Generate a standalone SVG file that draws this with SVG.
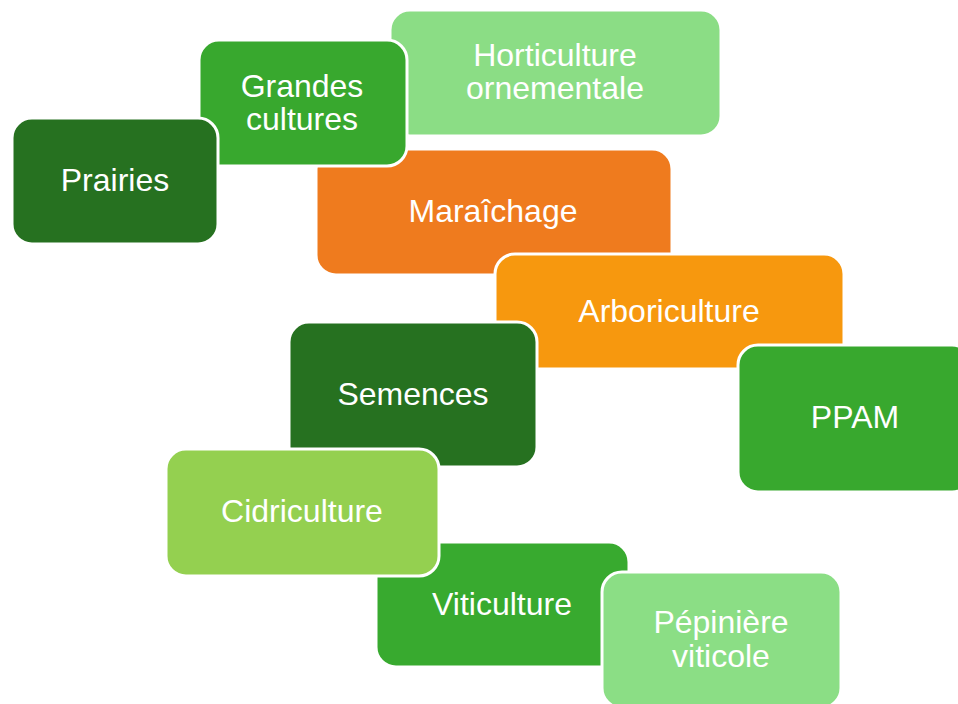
<svg xmlns="http://www.w3.org/2000/svg" width="958" height="704" viewBox="0 0 958 704">
<style>
.b{stroke:#ffffff;stroke-width:3}
.t{font-family:"Liberation Sans",Arial,sans-serif;font-size:32px;fill:#ffffff;text-anchor:middle}
</style>
<rect width="958" height="704" fill="#ffffff"/>
<g id="horticulture"><rect class="b" x="390" y="10" width="331" height="126" rx="20" fill="#8BDD85"/><text class="t" x="555" y="66">Horticulture</text><text class="t" x="555" y="99">ornementale</text></g>
<g id="maraichage"><rect class="b" x="316" y="149" width="356" height="126" rx="20" fill="#EF7B1E"/><text class="t" x="493" y="222">Maraîchage</text></g>
<g id="grandes"><rect class="b" x="199" y="40" width="208" height="126" rx="20" fill="#38A82E"/><text class="t" x="302" y="97">Grandes</text><text class="t" x="302" y="130">cultures</text></g>
<g id="prairies"><rect class="b" x="12" y="118" width="206" height="126" rx="20" fill="#267120"/><text class="t" x="115" y="191">Prairies</text></g>
<g id="arboriculture"><rect class="b" x="495" y="254" width="349" height="115" rx="20" fill="#F7980E"/><text class="t" x="669" y="322">Arboriculture</text></g>
<g id="semences"><rect class="b" x="289" y="322" width="248" height="145" rx="20" fill="#267120"/><text class="t" x="413" y="405">Semences</text></g>
<g id="ppam"><rect class="b" x="738" y="345" width="234" height="147" rx="20" fill="#38A82E"/><text class="t" x="855" y="428">PPAM</text></g>
<g id="viticulture"><rect class="b" x="376" y="542" width="253" height="125" rx="20" fill="#38AA2F"/><text class="t" x="502" y="615">Viticulture</text></g>
<g id="cidriculture"><rect class="b" x="166" y="449" width="273" height="127" rx="20" fill="#94D050"/><text class="t" x="302" y="522">Cidriculture</text></g>
<g id="pepiniere"><rect class="b" x="602" y="572" width="239" height="136" rx="20" fill="#8BDE85"/><text class="t" x="721" y="633">Pépinière</text><text class="t" x="721" y="667">viticole</text></g>
<g id="connectors"></g>
</svg>
